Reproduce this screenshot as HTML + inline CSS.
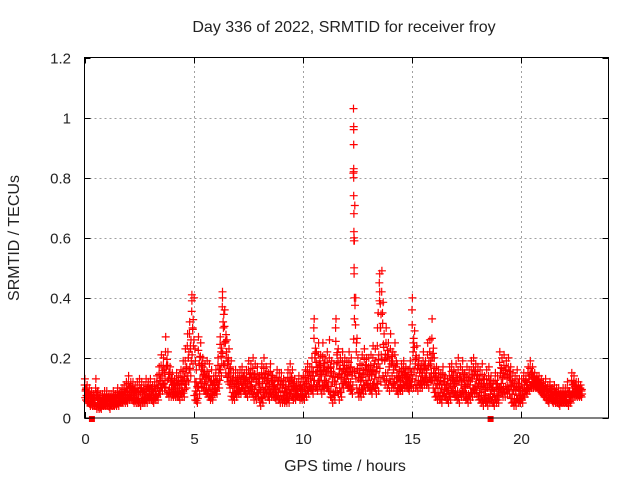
<!DOCTYPE html>
<html><head><meta charset="utf-8"><style>
html,body{margin:0;padding:0;background:#fff;}
svg{display:block;font-family:"Liberation Sans",sans-serif;}
</style></head><body>
<svg id="chart" width="640" height="480" viewBox="0 0 640 480" xmlns="http://www.w3.org/2000/svg">
<rect width="640" height="480" fill="#fff"/>
<text x="344" y="32" font-size="16" text-anchor="middle" fill="#222">Day 336 of 2022, SRMTID for receiver froy</text>
<text transform="translate(19,238) rotate(-90)" font-size="16" text-anchor="middle" fill="#222">SRMTID / TECUs</text>
<text x="345" y="471" font-size="16" text-anchor="middle" fill="#222">GPS time / hours</text>
<g id="grid"></g>
<g id="ticks"></g>
<g id="marks"></g>
<rect x="84.5" y="57.5" width="524" height="360.5" fill="none" stroke="#000" stroke-width="1"/>
</svg>
<script>
const xTicks=[0,5,10,15,20];
const yTicks=[0,0.2,0.4,0.6,0.8,1,1.2];
const yTickLabels=["0","0.2","0.4","0.6","0.8","1","1.2"];
const tStart=0.05, tStep=0.1;
const hiVals=[.13,.11,.10,.09,.08,.13,.09,.08,.08,.09,
.09,.08,.08,.09,.08,.10,.09,.10,.11,.12,
.14,.12,.12,.11,.12,.13,.12,.11,.13,.12,
.13,.11,.12,.14,.17,.21,.20,.27,.22,.17,
.15,.13,.15,.14,.16,.19,.23,.28,.32,.41,
.40,.16,.27,.25,.20,.18,.19,.18,.16,.14,
.16,.20,.27,.42,.36,.26,.23,.19,.15,.16,
.15,.16,.17,.15,.16,.19,.18,.20,.18,.17,
.14,.18,.20,.17,.15,.18,.14,.13,.16,.15,
.15,.13,.12,.16,.18,.16,.13,.12,.14,.13,
.14,.16,.18,.17,.20,.33,.22,.25,.21,.25,
.20,.22,.26,.19,.18,.33,.23,.20,.22,.20,
.19,.22,.20,1.03,.40,.20,.18,.21,.23,.20,
.20,.21,.24,.23,.30,.48,.49,.28,.30,.25,
.28,.22,.25,.18,.16,.18,.19,.17,.16,.19,
.40,.29,.24,.20,.18,.22,.19,.25,.26,.33,
.20,.17,.16,.15,.17,.14,.13,.17,.18,.16,
.18,.20,.17,.19,.15,.17,.16,.19,.20,.18,
.17,.16,.18,.14,.16,.17,.14,.12,.15,.14,
.22,.20,.21,.19,.20,.17,.15,.14,.16,.13,
.13,.15,.14,.17,.19,.17,.15,.14,.14,.13,
.12,.13,.11,.12,.10,.11,.10,.10,.09,.10,
.10,.12,.09,.15,.14,.12,.12,.11];
const loVals=[.06,.05,.04,.04,.04,.03,.03,.03,.04,.04,
.04,.03,.04,.04,.04,.04,.05,.05,.05,.05,
.06,.06,.05,.05,.05,.04,.05,.05,.05,.06,
.06,.05,.06,.06,.08,.09,.10,.08,.07,.07,
.07,.07,.07,.06,.07,.07,.10,.12,.14,.18,
.06,.05,.08,.10,.09,.08,.07,.06,.06,.08,
.08,.10,.14,.18,.15,.12,.10,.06,.06,.07,
.08,.08,.09,.08,.07,.08,.08,.06,.06,.07,
.04,.05,.07,.07,.06,.07,.07,.06,.06,.05,
.05,.05,.05,.05,.07,.06,.06,.07,.06,.06,
.06,.07,.08,.09,.08,.10,.09,.11,.08,.09,
.10,.09,.07,.05,.06,.09,.06,.07,.10,.11,
.10,.09,.08,.15,.10,.07,.07,.08,.09,.10,
.09,.08,.10,.08,.09,.12,.14,.11,.10,.09,
.10,.10,.09,.08,.09,.09,.10,.10,.09,.10,
.10,.10,.09,.10,.10,.11,.11,.10,.12,.10,
.07,.06,.06,.05,.07,.06,.05,.06,.08,.07,
.06,.05,.07,.07,.06,.05,.06,.07,.08,.08,
.06,.05,.04,.05,.04,.05,.05,.04,.05,.05,
.08,.07,.07,.08,.08,.05,.04,.04,.05,.05,
.05,.07,.08,.09,.10,.10,.10,.10,.09,.08,
.07,.06,.05,.06,.05,.05,.05,.04,.05,.05,
.05,.04,.05,.07,.07,.07,.07,.07];
const midVals=[.09,.07,.07,.06,.06,.07,.06,.05,.06,.06,
.06,.06,.06,.06,.06,.07,.07,.07,.08,.08,
.09,.09,.08,.08,.08,.09,.08,.08,.09,.09,
.09,.08,.09,.10,.12,.14,.15,.17,.13,.12,
.10,.10,.10,.10,.11,.12,.15,.20,.24,.30,
.12,.08,.18,.16,.14,.12,.12,.10,.09,.11,
.12,.15,.22,.32,.25,.18,.15,.11,.10,.11,
.11,.12,.13,.12,.11,.13,.12,.13,.11,.12,
.09,.12,.13,.12,.10,.13,.10,.09,.11,.10,
.10,.09,.08,.11,.12,.10,.09,.09,.10,.09,
.10,.11,.13,.13,.14,.20,.15,.17,.14,.16,
.14,.15,.14,.12,.12,.18,.14,.13,.16,.15,
.14,.15,.14,.60,.22,.13,.12,.14,.16,.15,
.14,.14,.16,.15,.18,.30,.35,.19,.20,.17,
.18,.16,.17,.12,.12,.13,.14,.13,.12,.14,
.22,.18,.16,.15,.14,.16,.15,.17,.18,.20,
.13,.11,.11,.10,.12,.10,.09,.11,.13,.11,
.12,.12,.11,.13,.10,.11,.11,.13,.14,.13,
.11,.10,.11,.09,.10,.11,.09,.08,.10,.09,
.15,.13,.14,.13,.14,.11,.09,.09,.10,.08,
.09,.11,.11,.13,.14,.13,.12,.12,.11,.10,
.09,.09,.08,.09,.07,.08,.07,.07,.07,.07,
.07,.08,.07,.10,.10,.09,.09,.09];
const spikeTimes=[12.33,12.33,12.33,12.33,12.33,12.33,12.33,12.34,12.34,12.34,12.35,12.35,12.36,12.36,13.5,13.52,13.55,13.45,4.92,6.32,15.0,10.5,11.5];
const spikeVals=[.97,.96,.91,.83,.82,.80,.74,.68,.62,.59,.50,.48,.40,.33,.45,.42,.38,.35,.39,.40,.36,.30,.30];
const markerTimes=[0.34,18.6];

const X0=84.5,X1=608.5,Y0=418,Y1=57.5,XMAX=24,YMAX=1.2;
const xs=t=>X0+(t/XMAX)*(X1-X0);
const ys=v=>Y0-(v/YMAX)*(Y0-Y1);
const NS="http://www.w3.org/2000/svg";
const grid=document.getElementById('grid'),ticks=document.getElementById('ticks'),marks=document.getElementById('marks');
function ln(p,x1,y1,x2,y2,st,dash){const l=document.createElementNS(NS,'line');l.setAttribute('x1',x1);l.setAttribute('y1',y1);l.setAttribute('x2',x2);l.setAttribute('y2',y2);l.setAttribute('stroke',st);l.setAttribute('stroke-width',1);if(dash)l.setAttribute('stroke-dasharray',dash);p.appendChild(l);return l;}
function tx(p,x,y,s,anc){const t=document.createElementNS(NS,'text');t.setAttribute('x',x);t.setAttribute('y',y);t.setAttribute('font-size',15);t.setAttribute('fill','#222');t.setAttribute('text-anchor',anc);t.textContent=s;p.appendChild(t);return t;}
xTicks.forEach(v=>{const x=Math.round(xs(v))+0.5;
 if(v>0){const g=ln(grid,x,Y0,x,Y1,'#a0a0a0','2,3');
 
 }
 ln(ticks,x,Y0,x,Y0-6,'#000');ln(ticks,x,Y1,x,Y1+6,'#000');
 const t=tx(ticks,x,444,String(v),'middle');
 
 });
yTicks.forEach((v,i)=>{const y=Math.round(ys(v))+0.5;
 if(v>0&&v<1.2){const g=ln(grid,X0,y,X1,y,'#a0a0a0','2,3');
 
 }
 ln(ticks,X0,y,X0+6,y,'#000');ln(ticks,X1,y,X1-6,y,'#000');
 const t=tx(ticks,71,y+5,yTickLabels[i],'end');
 
 });
let d='';
function cross(t,v){const x=xs(t),y=ys(v);d+=`M${(x-4).toFixed(1)} ${y.toFixed(1)}h8M${x.toFixed(1)} ${(y-4).toFixed(1)}v8`;}
hiVals.forEach((h,i)=>{const t=tStart+i*tStep,lo=loVals[i],m=midVals[i];
 cross(t-0.03,h);cross(t+0.02,lo);cross(t,m);
 cross(t+0.04,(lo+m)/2);cross(t-0.04,(m+h)/2);cross(t+0.01,(lo+h)/2);
 cross(t-0.02,(lo*3+m)/4);cross(t+0.03,(m*3+h)/4);});
spikeVals.forEach((v,i)=>cross(spikeTimes[i],v));
const p=document.createElementNS(NS,'path');p.setAttribute('d',d);p.setAttribute('stroke','#f00');p.setAttribute('stroke-width','1.2');p.setAttribute('fill','none');


marks.appendChild(p);
markerTimes.forEach(t=>{const r=document.createElementNS(NS,'rect');r.setAttribute('x',xs(t)-3);r.setAttribute('y',416);r.setAttribute('width',6);r.setAttribute('height',6);r.setAttribute('fill','#f00');
 
 
 marks.appendChild(r);});
</script>
</body></html>
